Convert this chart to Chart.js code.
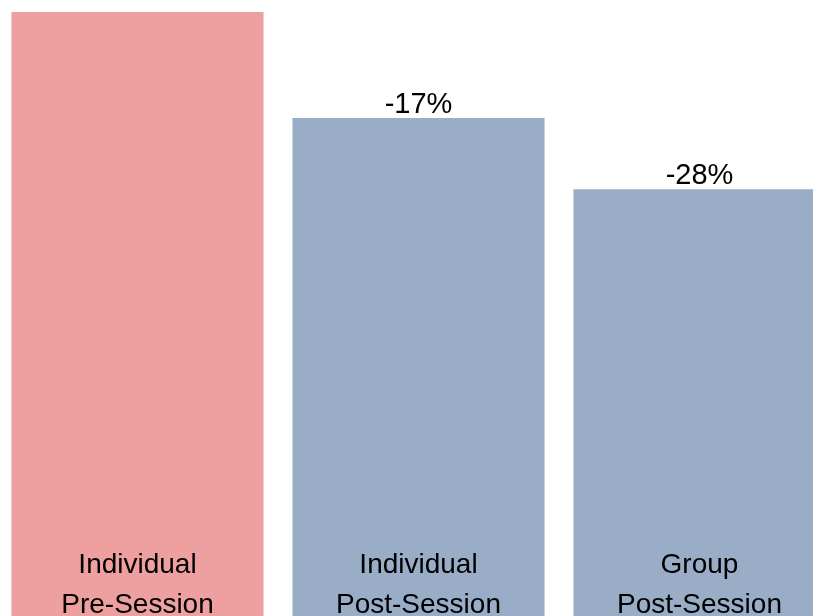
<!DOCTYPE html>
<html>
<head>
<meta charset="utf-8">
<script src="https://cdn.jsdelivr.net/npm/chart.js@4"></script>
<style>
    html, body { margin: 0; padding: 0; overflow: hidden; background: #fff; width: 813px; height: 616px; }
    #wrap { position: absolute; left: -3px; top: 0; width: 843px; height: 640px; }
</style>
</head>
<body>
<div id="wrap"><canvas id="sessionChart" width="843" height="640"></canvas></div>
<script>
    // Data
    const categories = [['Individual', 'Pre-Session'], ['Individual', 'Post-Session'], ['Group', 'Post-Session']];
    const values = [100, 83, 71.6];
    const changeLabels = ['', '-17%', '-28%'];
    const barColors = ['#EEA0A0', '#9AADC7', '#9AADC7'];

    // draws the change labels above the bars and the category names inside them
    const barTextPlugin = {
        id: 'barText',
        afterDatasetsDraw(chart) {
            const ctx = chart.ctx;
            const meta = chart.getDatasetMeta(0);
            ctx.save();
            ctx.fillStyle = '#000';
            ctx.textAlign = 'center';
            ctx.textBaseline = 'alphabetic';
            meta.data.forEach((bar, i) => {
                if (changeLabels[i]) {
                    ctx.font = '29px "Liberation Sans", Arial, sans-serif';
                    ctx.fillText(changeLabels[i], bar.x, bar.y - 5);
                }
                ctx.font = '28px "Liberation Sans", Arial, sans-serif';
                const lines = categories[i];
                lines.forEach((line, j) => {
                    const offset = (lines.length - 1 - j) * 40;
                    ctx.fillText(line, bar.x, bar.base - 23 - offset);
                });
            });
            ctx.restore();
        }
    };

    try {
        const chartCtx = document.getElementById('sessionChart');
        new Chart(chartCtx, {
            type: 'bar',
            data: {
                labels: categories,
                datasets: [{
                    data: values,
                    backgroundColor: barColors,
                    borderWidth: 0,
                    barPercentage: 0.897,
                    categoryPercentage: 1.0
                }]
            },
            options: {
                responsive: false,
                animation: false,
                layout: {
                    padding: { top: 12, bottom: 4, left: 0, right: 0 }
                },
                scales: {
                    x: { display: false },
                    y: { display: false, min: 0, max: 100 }
                },
                plugins: {
                    legend: { display: false },
                    tooltip: { enabled: false }
                }
            },
            plugins: [barTextPlugin]
        });
    } catch (e) {
        console.error('Chart error:', e);
    }
</script>
</body>
</html>
